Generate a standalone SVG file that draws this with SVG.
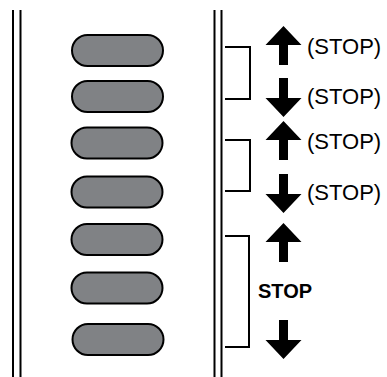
<svg xmlns="http://www.w3.org/2000/svg" xmlns:xlink="http://www.w3.org/1999/xlink" width="387" height="377" viewBox="0 0 387 377">
  <style>
    .rail { stroke: #000; stroke-width: 2; fill: none; }
    .pill { fill: #808285; stroke: #000; stroke-width: 2; }
    .br { stroke: #000; stroke-width: 2; fill: none; }
    .lbl { font-family: "Liberation Sans", Arial, sans-serif; font-size: 22px; fill: #000; }
    .blbl { font-family: "Liberation Sans", Arial, sans-serif; font-size: 20px; font-weight: bold; fill: #000; }
  </style>
  <defs>
    <path id="up" d="M0,0 L18,19 L4.5,19 L4.5,39 L-4.5,39 L-4.5,19 L-18,19 Z" fill="#000"/>
  </defs>
  <rect width="387" height="377" fill="#fff"/>
  <g id="rails">
    <line class="rail" x1="13" y1="10" x2="13" y2="377"/>
    <line class="rail" x1="20.5" y1="10" x2="20.5" y2="377"/>
    <line class="rail" x1="214.5" y1="10" x2="214.5" y2="377"/>
    <line class="rail" x1="221.5" y1="10" x2="221.5" y2="377"/>
  </g>
  <g id="pill1"><rect class="pill" x="72" y="35" width="91" height="31" rx="15.5"/></g>
  <g id="pill2"><rect class="pill" x="72" y="81" width="91" height="31" rx="15.5"/></g>
  <g id="pill3"><rect class="pill" x="71.5" y="127.5" width="91" height="31" rx="15.5"/></g>
  <g id="pill4"><rect class="pill" x="71.5" y="176.5" width="91" height="31" rx="15.5"/></g>
  <g id="pill5"><rect class="pill" x="71.5" y="224" width="91" height="31" rx="15.5"/></g>
  <g id="pill6"><rect class="pill" x="71.5" y="272.5" width="91" height="31" rx="15.5"/></g>
  <g id="pill7"><rect class="pill" x="72.5" y="324" width="91" height="31" rx="15.5"/></g>
  <g id="connectors">
    <polyline class="br" points="225,47 250,47 250,99 225,99"/>
    <polyline class="br" points="225,140 250,140 250,191 225,191"/>
    <polyline class="br" points="225,236 249,236 249,347 225,347"/>
  </g>
  <g id="arrows">
    <use xlink:href="#up" transform="translate(283.5,26)"/>
    <use xlink:href="#up" transform="translate(283.5,117) scale(1,-1)"/>
    <use xlink:href="#up" transform="translate(283.5,121)"/>
    <use xlink:href="#up" transform="translate(283.5,213) scale(1,-1)"/>
    <use xlink:href="#up" transform="translate(283.5,223)"/>
    <use xlink:href="#up" transform="translate(283.5,359) scale(1,-1)"/>
  </g>
  <g id="labels">
    <text class="lbl" x="307" y="54">(STOP)</text>
    <text class="lbl" x="307" y="104">(STOP)</text>
    <text class="lbl" x="307" y="149">(STOP)</text>
    <text class="lbl" x="307" y="200">(STOP)</text>
    <text class="blbl" x="258" y="298">STOP</text>
  </g>
</svg>
